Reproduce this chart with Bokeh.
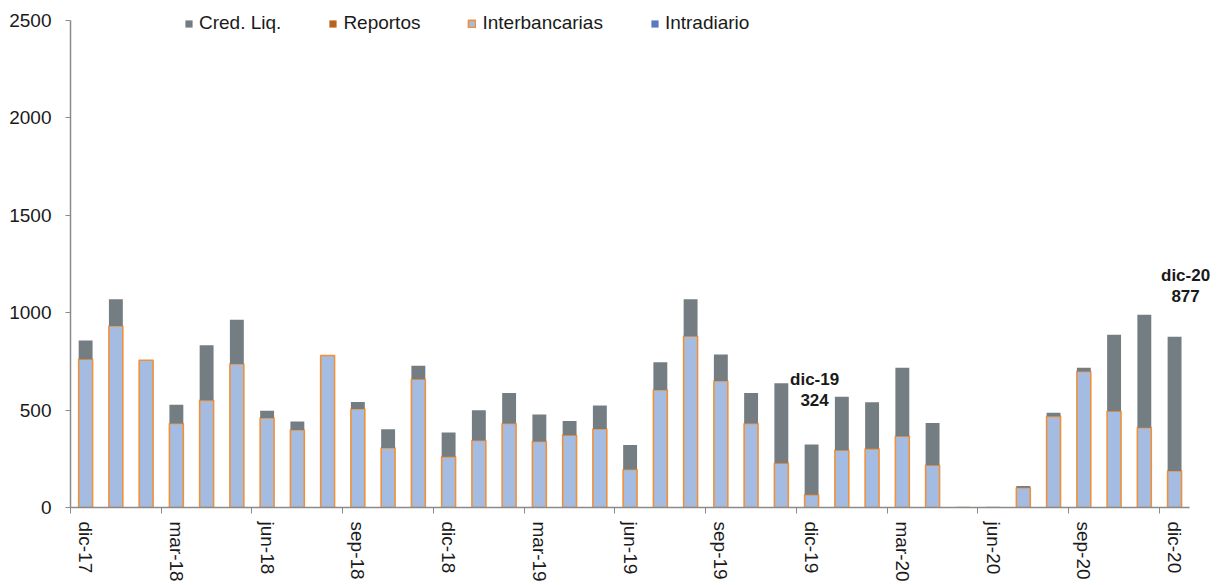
from bokeh.plotting import figure
from bokeh.models import ColumnDataSource, FixedTicker, Range1d, Label
from bokeh.embed import file_html
from bokeh.resources import INLINE

months = ["dic-17", "ene-18", "feb-18", "mar-18", "abr-18", "may-18", "jun-18", "jul-18", "ago-18",
          "sep-18", "oct-18", "nov-18", "dic-18", "ene-19", "feb-19", "mar-19", "abr-19", "may-19",
          "jun-19", "jul-19", "ago-19", "sep-19", "oct-19", "nov-19", "dic-19", "ene-20", "feb-20",
          "mar-20", "abr-20", "may-20", "jun-20", "jul-20", "ago-20", "sep-20", "oct-20", "nov-20",
          "dic-20"]
interbancarias = [761, 932, 756, 431, 550, 737, 460, 398, 780, 506, 306, 658, 260, 344, 431, 339,
                  371, 403, 195, 603, 879, 649, 431, 227, 65, 294, 301, 366, 217, 0, 0, 101, 468,
                  698, 494, 410, 188]
cred_liq = [96, 137, 0, 97, 283, 227, 36, 43, 0, 36, 96, 69, 125, 155, 157, 138, 73, 120, 126, 142,
            190, 137, 157, 411, 259, 274, 239, 351, 217, 3, 3, 10, 18, 19, 393, 580, 689]
reportos = [0] * 37
intradiario = [0] * 37
y_ticks = [0, 500, 1000, 1500, 2000, 2500]
annotated = ["dic-19", "dic-20"]

FONT = "Liberation Sans"
x = list(range(len(months)))
src = ColumnDataSource(dict(x=x, months=months, intradiario=intradiario,
                            interbancarias=interbancarias, reportos=reportos, cred_liq=cred_liq))

p = figure(width=1214, height=584, output_backend="svg", toolbar_location=None,
           x_range=Range1d(-0.5, len(months) + 0.32), y_range=Range1d(0, 2582),
           min_border_left=70, min_border_right=0, min_border_top=4, min_border_bottom=70)
p.outline_line_color = None
p.background_fill_color = "white"
p.xgrid.visible = False
p.ygrid.visible = False

stackers = ["intradiario", "interbancarias", "reportos", "cred_liq"]
names = ["Intradiario", "Interbancarias", "Reportos", "Cred. Liq."]
fills = ["#5B78C2", "#A4BCE2", "#B8621E", "#747E82"]
lines = [None, "#F0913A", None, None]
renderers = p.vbar_stack(stackers, x="x", width=0.46, source=src, fill_color=fills,
                         line_color=lines, line_width=1.6, legend_label=names)

leg = p.legend[0]
leg.items = list(reversed(leg.items))
leg.orientation = "horizontal"
leg.location = (114, 473)
leg.border_line_color = None
leg.background_fill_alpha = 0
leg.padding = 0
leg.margin = 0
leg.spacing = 47
leg.glyph_width = 9
leg.glyph_height = 9
leg.label_standoff = 6
leg.label_height = 20
leg.label_text_font = FONT
leg.label_text_font_size = "19px"
leg.label_text_color = "#1a1a1a"

axis_color = "#8a8a8a"
xa = p.xaxis[0]
xa.bounds = (-0.5, len(months) - 0.5)
xa.ticker = FixedTicker(ticks=x[::3], minor_ticks=[i - 0.5 for i in x[::3]])
xa.major_label_overrides = {i: months[i] for i in x[::3]}
xa.major_label_orientation = "vertical"
xa.major_tick_out = 0
xa.major_tick_in = 0
xa.minor_tick_out = 6
xa.minor_tick_in = 0
xa.minor_tick_line_color = axis_color
xa.axis_line_color = axis_color
xa.axis_line_width = 1.5
xa.major_label_standoff = 8
xa.major_label_text_font = FONT
xa.major_label_text_font_size = "19px"
xa.major_label_text_color = "#1a1a1a"

ya = p.yaxis[0]
ya.bounds = (0, 2500)
ya.ticker = FixedTicker(ticks=y_ticks)
ya.minor_tick_line_color = None
ya.major_tick_out = 5
ya.major_tick_in = 0
ya.major_tick_line_color = axis_color
ya.axis_line_color = axis_color
ya.axis_line_width = 1.5
ya.major_label_standoff = 14
ya.major_label_text_font = FONT
ya.major_label_text_font_size = "19px"
ya.major_label_text_color = "#1a1a1a"

for m, dy, dx in zip(annotated, [34, 31], [3, 11]):
    i = months.index(m)
    total = interbancarias[i] + cred_liq[i] + reportos[i] + intradiario[i]
    p.add_layout(Label(x=i, y=total, text=f"{m}\n{total}", text_align="center",
                       text_baseline="bottom", x_offset=dx, y_offset=dy,
                       text_font=FONT, text_font_style="bold", text_font_size="17px",
                       text_line_height=1.1, text_color="#1a1a1a"))

open("out.html", "w").write(file_html(p, INLINE))
